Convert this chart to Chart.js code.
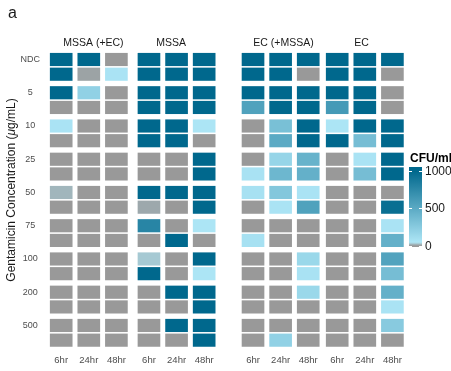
<!DOCTYPE html>
<html>
<head>
<meta charset="utf-8">
<script src="https://cdn.jsdelivr.net/npm/chart.js@4/dist/chart.umd.min.js"></script>
<style>
  html, body { margin: 0; padding: 0; background: #ffffff; }
  canvas { display: block; }
</style>
</head>
<body>
<canvas id="heatmap" width="451" height="371"></canvas>
<script>
// Gentamicin kill heatmap - CFU/mL per well, two replicate rows per concentration

const concentrations = ['NDC', '5', '10', '25', '50', '75', '100', '200', '500'];
const groups = ['MSSA (+EC)', 'MSSA', 'EC (+MSSA)', 'EC'];
const timepoints = ['6hr', '24hr', '48hr'];
const legendTicks = [0, 500, 1000];

// rows: NDC a, NDC b, 5 a, 5 b, ... 500 a, 500 b ; columns: 6hr, 24hr, 48hr
const mssaWithEc = [
    [1000, 1000, 0], [1000, 5, 60],
    [1000, 200, 0], [0, 0, 0],
    [60, 0, 0], [0, 0, 0],
    [0, 0, 0], [0, 0, 0],
    [15, 0, 0], [0, 0, 0],
    [0, 0, 0], [0, 0, 0],
    [0, 0, 0], [0, 0, 0],
    [0, 0, 0], [0, 0, 0],
    [0, 0, 0], [0, 0, 0]
];
const mssaAlone = [
    [1000, 1000, 1000], [1000, 1000, 1000],
    [1000, 1000, 1000], [1000, 1000, 1000],
    [1000, 1000, 50], [1000, 1000, 0],
    [0, 0, 1000], [0, 0, 1000],
    [1000, 1000, 1000], [8, 0, 1000],
    [780, 0, 50], [0, 1000, 0],
    [25, 0, 1000], [1000, 0, 50],
    [0, 1000, 1000], [0, 0, 1000],
    [0, 1000, 1000], [0, 0, 1000]
];
const ecWithMssa = [
    [1000, 1000, 1000], [1000, 1000, 0],
    [1000, 1000, 1000], [560, 1000, 1000],
    [0, 330, 1000], [0, 500, 1000],
    [0, 170, 430], [70, 400, 450],
    [80, 280, 60], [0, 60, 560],
    [0, 0, 0], [80, 0, 0],
    [0, 0, 150], [0, 0, 70],
    [0, 0, 150], [0, 0, 0],
    [0, 0, 0], [0, 200, 0]
];
const ecAlone = [
    [1000, 1000, 1000], [1000, 1000, 0],
    [1000, 1000, 0], [620, 1000, 0],
    [50, 1000, 1000], [1000, 350, 1000],
    [0, 60, 1000], [0, 350, 1000],
    [0, 0, 0], [0, 0, 950],
    [0, 0, 60], [0, 0, 450],
    [0, 0, 550], [0, 0, 350],
    [0, 0, 450], [0, 0, 60],
    [0, 0, 250], [0, 0, 0]
];
const groupValues = [mssaWithEc, mssaAlone, ecWithMssa, ecAlone];

// layout helpers
const FONT = '"Liberation Sans", Arial, sans-serif';
const groupShift = [0, 0.18, 0.95, 1.0];
const headerShift = [0.167, -0.2, 0.105, -0.12];
const pairStep = 2.26;
const tileHeight = 0.85;

function colPos(g, t) {
    return g * 3 + t + groupShift[g];
}
function rowPos(row) {
    return Math.floor(row / 2) * pairStep + (row % 2);
}

// colour scale: grey at 0 -> light blue -> dark teal
const GREY = [153, 153, 153];
const LIGHT = [174, 230, 246];
const DARK = [0, 104, 141];
function mix(a, b, f) {
    return 'rgb(' + a.map((c, i) => Math.round(c + (b[i] - c) * f)).join(',') + ')';
}
function cfuColour(v) {
    if (v <= 0) return mix(GREY, GREY, 0);
    if (v < 40) return mix(GREY, LIGHT, v / 40);
    return mix(LIGHT, DARK, Math.min(1, (v - 40) / 960));
}

// one dataset per replicate row
const datasets = [];
for (let row = 0; row < concentrations.length * 2; row++) {
    const points = [];
    const colours = [];
    groups.forEach((name, g) => {
        timepoints.forEach((tp, t) => {
            const y = rowPos(row);
            points.push({ x: colPos(g, t), y: [y - tileHeight / 2, y + tileHeight / 2] });
            colours.push(cfuColour(groupValues[g][row][t]));
        });
    });
    datasets.push({
        data: points,
        backgroundColor: colours,
        borderWidth: 0,
        barThickness: 22,
        grouped: false
    });
}

// colour bar legend, y title and panel letter
const cfuLegend = {
    id: 'cfuLegend',
    afterDraw(chart) {
        const ctx = chart.ctx;
        ctx.save();

        ctx.fillStyle = '#1a1a1a';
        ctx.font = '16px ' + FONT;
        ctx.textAlign = 'left';
        ctx.textBaseline = 'alphabetic';
        ctx.fillText('a', 8, 18);

        // y axis title with italic mu
        const parts = [['Gentamicin Concentration (', ''], ['\u03bc', 'italic '], ['g/mL)', '']];
        let total = 0;
        parts.forEach(p => { ctx.font = p[1] + '12px ' + FONT; total += ctx.measureText(p[0]).width; });
        ctx.save();
        ctx.translate(12, 190);
        ctx.rotate(-Math.PI / 2);
        ctx.textBaseline = 'middle';
        let px = -total / 2;
        parts.forEach(p => {
            ctx.font = p[1] + '12px ' + FONT;
            ctx.fillText(p[0], px, 0);
            px += ctx.measureText(p[0]).width;
        });
        ctx.restore();

        const x = 409, w = 13, top = 167, bottom = 247;
        const yZero = 245.5, yMax = 171;
        const valueAt = y => Math.max(0, Math.min(1000, (yZero - y) / (yZero - yMax) * 1000));
        const grad = ctx.createLinearGradient(0, bottom, 0, top);
        for (let i = 0; i <= 80; i++) {
            const y = bottom - (bottom - top) * i / 80;
            grad.addColorStop(i / 80, cfuColour(valueAt(y)));
        }
        ctx.fillStyle = grad;
        ctx.fillRect(x, top, w, bottom - top);

        ctx.font = 'bold 12px ' + FONT;
        ctx.fillStyle = '#000000';
        ctx.textBaseline = 'alphabetic';
        ctx.fillText('CFU/mL', x + 1, 162);

        ctx.font = '12px ' + FONT;
        ctx.textBaseline = 'middle';
        legendTicks.forEach(v => {
            const y = Math.round(yZero - (yZero - yMax) * v / 1000) + 0.5;
            ctx.strokeStyle = '#ffffff';
            ctx.lineWidth = 1;
            ctx.beginPath();
            ctx.moveTo(x, y); ctx.lineTo(x + 3, y);
            ctx.moveTo(x + w - 3, y); ctx.lineTo(x + w, y);
            ctx.stroke();
            ctx.fillStyle = '#1a1a1a';
            ctx.fillText(String(v), x + w + 3, y);
        });
        ctx.restore();
    }
};

new Chart(document.getElementById('heatmap'), {
    type: 'bar',
    data: { datasets: datasets },
    options: {
        responsive: false,
        animation: false,
        layout: { padding: { left: 0, right: 43, top: 0, bottom: 0 } },
        plugins: {
            legend: { display: false },
            tooltip: { enabled: false }
        },
        scales: {
            x: {
                type: 'linear',
                position: 'bottom',
                min: -0.587,
                max: 12.565,
                offset: false,
                grid: { display: false, drawTicks: false },
                border: { display: false },
                afterFit: scale => { scale.height = 22; },
                afterBuildTicks: scale => {
                    scale.ticks = [];
                    groups.forEach((name, g) => timepoints.forEach((tp, t) => scale.ticks.push({ value: colPos(g, t) })));
                },
                ticks: {
                    autoSkip: false,
                    maxRotation: 0,
                    padding: 6,
                    color: '#4d4d4d',
                    font: { family: FONT, size: 9.5 },
                    callback: (value, index) => timepoints[index % 3]
                }
            },
            x2: {
                type: 'linear',
                position: 'top',
                min: -0.587,
                max: 12.565,
                offset: false,
                grid: { display: false, drawTicks: false },
                border: { display: false },
                afterFit: scale => { scale.height = 50; },
                afterBuildTicks: scale => {
                    scale.ticks = groups.map((name, g) => ({ value: colPos(g, 1) + headerShift[g] }));
                },
                ticks: {
                    autoSkip: false,
                    maxRotation: 0,
                    padding: 1,
                    color: '#1a1a1a',
                    font: { family: FONT, size: 10.5 },
                    callback: (value, index) => groups[index]
                }
            },
            y: {
                type: 'linear',
                reverse: true,
                min: -0.646,
                max: 19.68,
                grid: { display: false, drawTicks: false },
                border: { display: false },
                afterFit: scale => { scale.width = 45; },
                afterBuildTicks: scale => {
                    scale.ticks = concentrations.map((c, i) => ({ value: rowPos(i * 2) }));
                },
                ticks: {
                    autoSkip: false,
                    crossAlign: 'center',
                    padding: 5,
                    color: '#4d4d4d',
                    font: { family: FONT, size: 9 },
                    callback: (value, index) => concentrations[index]
                }
            }
        }
    },
    plugins: [cfuLegend]
});
</script>
</body>
</html>
